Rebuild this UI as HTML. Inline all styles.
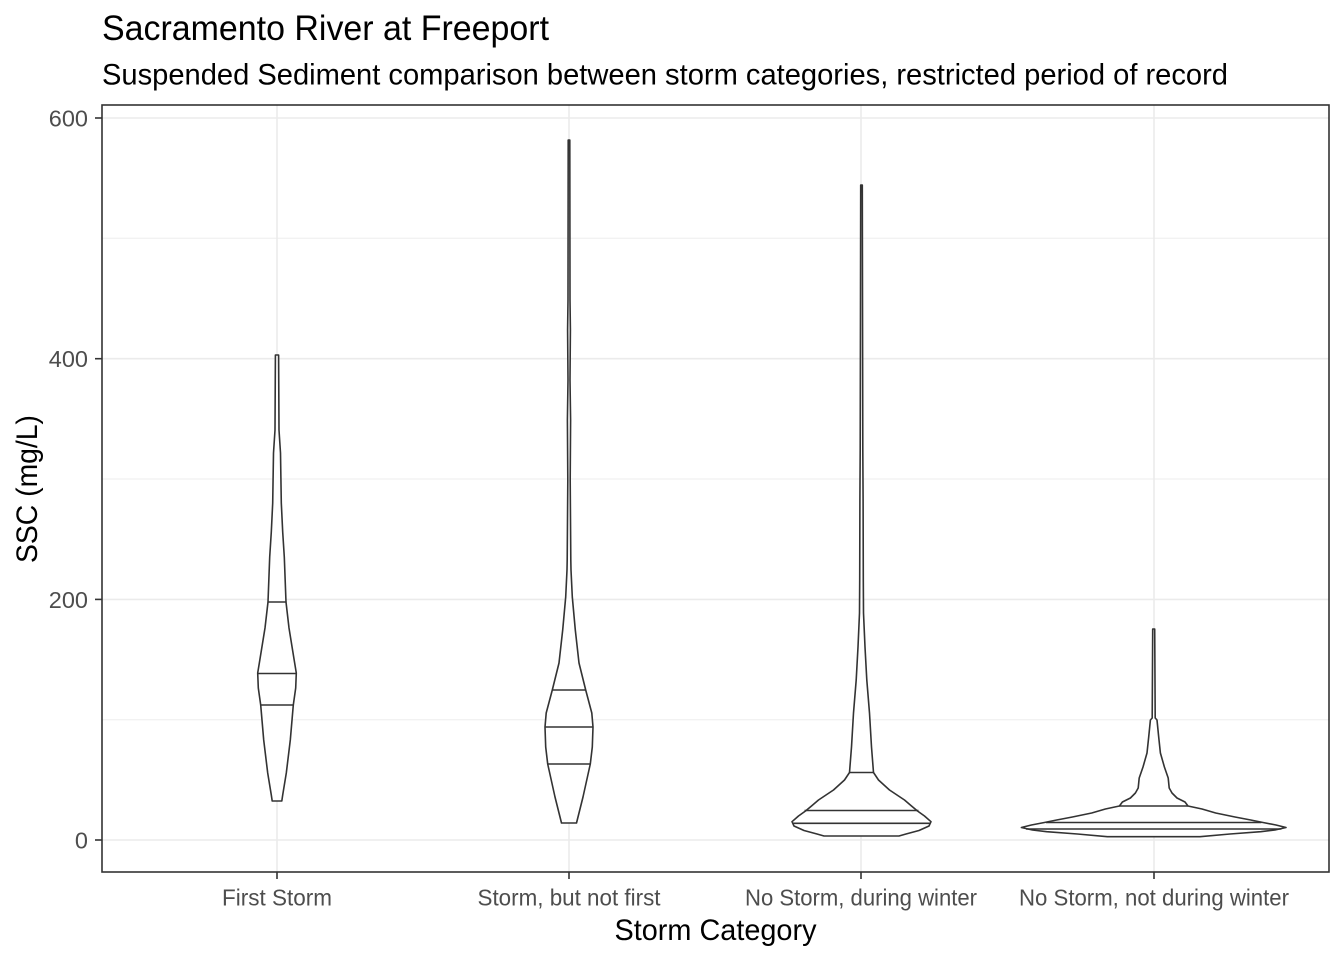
<!DOCTYPE html>
<html>
<head>
<meta charset="utf-8">
<style>
  html, body { margin:0; padding:0; background:#fff; }
  svg { display:block; }
  text { font-family: "Liberation Sans", Arial, sans-serif; }
</style>
</head>
<body>
<svg width="1344" height="960" viewBox="0 0 1344 960" xmlns="http://www.w3.org/2000/svg">
  <rect x="0" y="0" width="1344" height="960" fill="#ffffff"/>

  <!-- Titles -->
  <text x="102" y="40" font-size="35" fill="#000" textLength="447" lengthAdjust="spacingAndGlyphs">Sacramento River at Freeport</text>
  <text x="102" y="84.5" font-size="29.3" fill="#000" textLength="1126" lengthAdjust="spacingAndGlyphs">Suspended Sediment comparison between storm categories, restricted period of record</text>

  <!-- Panel background -->
  <rect x="102" y="105" width="1227" height="767" fill="#ffffff"/>

  <!-- minor gridlines -->
  <g stroke="#EEEEEE" stroke-width="1">
    <line x1="102" y1="719.7" x2="1329" y2="719.7"/>
    <line x1="102" y1="479" x2="1329" y2="479"/>
    <line x1="102" y1="238.3" x2="1329" y2="238.3"/>
  </g>
  <!-- major gridlines -->
  <g stroke="#EBEBEB" stroke-width="1.6">
    <line x1="102" y1="840" x2="1329" y2="840"/>
    <line x1="102" y1="599.4" x2="1329" y2="599.4"/>
    <line x1="102" y1="358.7" x2="1329" y2="358.7"/>
    <line x1="102" y1="118" x2="1329" y2="118"/>
    <line x1="277" y1="105" x2="277" y2="872"/>
    <line x1="569" y1="105" x2="569" y2="872"/>
    <line x1="861" y1="105" x2="861" y2="872"/>
    <line x1="1154" y1="105" x2="1154" y2="872"/>
  </g>

  <!-- Violins -->
  <g fill="#ffffff" stroke="#333333" stroke-width="1.6" stroke-linejoin="round">
    <!-- Violin 1: First Storm, cx=277 -->
    <polygon points="
      278.6,355 279,430 280.5,453 281.3,503 282.7,532 284.3,557 286,602 289,628 294.5,662 296.3,673 295.7,688 293.3,705 290.3,740 286.3,773 282.7,795 281.8,801
      272.2,801 271.3,795 267.7,773 263.7,740 260.7,705 258.3,688 257.7,673 259.5,662 265,628 268,602 269.7,557 271.3,532 272.7,503 273.5,453 275,430 275.4,355"/>
    <line x1="268" y1="602" x2="286" y2="602"/>
    <line x1="257.7" y1="673.5" x2="296.3" y2="673.5"/>
    <line x1="260.7" y1="705" x2="293.3" y2="705"/>

    <!-- Violin 2: Storm, but not first, cx=569 -->
    <polygon points="
      569.8,140 570,300 570.4,330 570,380 570.6,420 570.2,480 570.8,560 571,570 572.3,597 575.3,630 579,663 585.7,690 591.8,713 593,727 592.3,747 590.3,764 583,797 576.5,823
      561.5,823 555,797 547.7,764 545.7,747 545,727 546.2,713 552.3,690 559,663 562.7,630 565.7,597 567,570 567.2,560 567.8,480 567.4,420 568,380 567.6,330 568,300 568.2,140"/>
    <line x1="552.3" y1="690" x2="585.7" y2="690"/>
    <line x1="545" y1="727" x2="593" y2="727"/>
    <line x1="547.7" y1="764" x2="590.3" y2="764"/>

    <!-- Violin 3: No Storm, during winter, cx=861.5 -->
    <polygon points="
      862.3,185 862.5,300 862.8,450 863.1,500 863.3,580 863.5,613 865,647 866.8,680 869.5,713 871.5,747 873.5,772.5 878.5,780 889.5,790 904.5,800 911.5,806 917.5,811 924.5,816 931,821.7 929,826 919,830.5 906,834 899,836
      824,836 817,834 804,830.5 794,826 792,821.7 798.5,816 805.5,811 811.5,806 818.5,800 833.5,790 844.5,780 849.5,772.5 851.5,747 853.5,713 856.2,680 858,647 859.5,613 859.7,580 859.9,500 860.2,450 860.5,300 860.7,185"/>
    <line x1="849.5" y1="772.5" x2="873.5" y2="772.5"/>
    <line x1="804.5" y1="810.5" x2="918.5" y2="810.5"/>
    <line x1="793" y1="823.3" x2="930" y2="823.3"/>

    <!-- Violin 4: No Storm, not during winter, cx=1153.7 -->
    <polygon points="
      1154.7,629 1155.2,718 1157,720 1158.7,737 1160.4,753 1164.4,767 1168.2,778 1169.2,788 1172,793 1177,798 1185,802 1188,806 1202,809 1215.7,813 1235,817 1250.7,820 1263,822.5 1276,825 1286,827.5 1275,830 1260.7,831.7 1230,834 1200,836.7
      1107.4,836.7 1077.4,834 1046.7,831.7 1032.4,830 1021.4,827.5 1031.4,825 1044.4,822.5 1056.7,820 1072.4,817 1091.7,813 1105.4,809 1119.4,806 1122.4,802 1130.4,798 1135.4,793 1138.2,788 1139.2,778 1143,767 1147,753 1148.7,737 1150.4,720 1152.2,718 1152.7,629"/>
    <line x1="1119.4" y1="806" x2="1188" y2="806"/>
    <line x1="1046" y1="822.5" x2="1261.4" y2="822.5"/>
    <line x1="1026" y1="829" x2="1281.4" y2="829"/>
  </g>

  <!-- Panel border -->
  <rect x="102" y="105" width="1227" height="767" fill="none" stroke="#333333" stroke-width="1.6"/>

  <!-- Ticks -->
  <g stroke="#333333" stroke-width="1.6">
    <line x1="95" y1="840" x2="102" y2="840"/>
    <line x1="95" y1="599.4" x2="102" y2="599.4"/>
    <line x1="95" y1="358.7" x2="102" y2="358.7"/>
    <line x1="95" y1="118" x2="102" y2="118"/>
    <line x1="277" y1="872" x2="277" y2="879"/>
    <line x1="569" y1="872" x2="569" y2="879"/>
    <line x1="861" y1="872" x2="861" y2="879"/>
    <line x1="1154" y1="872" x2="1154" y2="879"/>
  </g>

  <!-- Y tick labels -->
  <g font-size="23.5" fill="#4D4D4D" text-anchor="end">
    <text x="88" y="848.5">0</text>
    <text x="88" y="607.9">200</text>
    <text x="88" y="367.2">400</text>
    <text x="88" y="126.5">600</text>
  </g>

  <!-- X tick labels -->
  <g font-size="23.5" fill="#4D4D4D" text-anchor="middle">
    <text x="277" y="905.5" textLength="110" lengthAdjust="spacingAndGlyphs">First Storm</text>
    <text x="569" y="905.5" textLength="183" lengthAdjust="spacingAndGlyphs">Storm, but not first</text>
    <text x="861" y="905.5" textLength="232" lengthAdjust="spacingAndGlyphs">No Storm, during winter</text>
    <text x="1154" y="905.5" textLength="270" lengthAdjust="spacingAndGlyphs">No Storm, not during winter</text>
  </g>

  <!-- Axis titles -->
  <text x="715.5" y="940" font-size="29.3" fill="#000" text-anchor="middle" textLength="202" lengthAdjust="spacingAndGlyphs">Storm Category</text>
  <text x="0" y="0" font-size="29.3" fill="#000" text-anchor="middle" transform="translate(37,489) rotate(-90)" textLength="148" lengthAdjust="spacingAndGlyphs">SSC (mg/L)</text>
</svg>
</body>
</html>
